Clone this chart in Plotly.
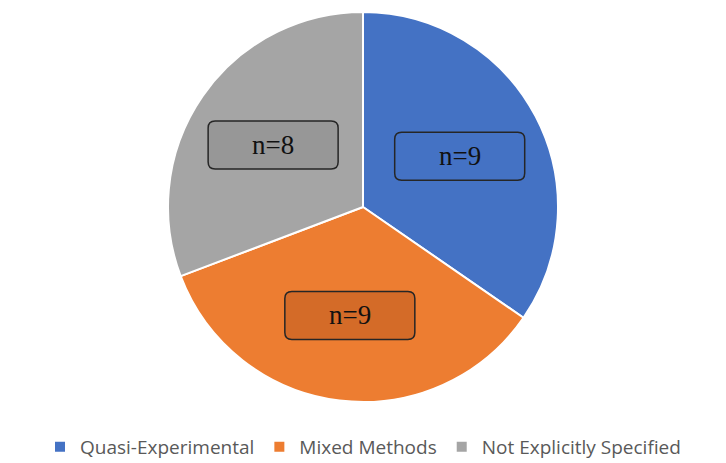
import math
import plotly.graph_objects as go

categories = ["Quasi-Experimental", "Mixed Methods", "Not Explicitly Specified"]
counts = [9, 9, 8]
colors = ["#4472C4", "#ED7D31", "#A5A5A5"]
box_colors = ["#4472C4", "#D46B28", "#979797"]

W, H = 726, 463
cx, cy, r = 363, 207, 195
bw, bh, rad = 130, 48, 7

fig = go.Figure(go.Pie(
    labels=categories, values=counts, sort=False, direction="clockwise", rotation=0,
    marker=dict(colors=colors, line=dict(color="white", width=2)),
    textinfo="none", hoverinfo="label+value",
    domain=dict(x=[(cx - r) / W, (cx + r) / W], y=[(H - cy - r) / H, (H - cy + r) / H]),
))


def rounded_box(px, py):
    x0, x1 = px - bw / 2, px + bw / 2
    y0, y1 = py - bh / 2, py + bh / 2

    def P(x, y):
        return f"{x / W:.5f},{1 - y / H:.5f}"
    return (f"M {P(x0 + rad, y0)} L {P(x1 - rad, y0)} Q {P(x1, y0)} {P(x1, y0 + rad)} "
            f"L {P(x1, y1 - rad)} Q {P(x1, y1)} {P(x1 - rad, y1)} "
            f"L {P(x0 + rad, y1)} Q {P(x0, y1)} {P(x0, y1 - rad)} "
            f"L {P(x0, y0 + rad)} Q {P(x0, y0)} {P(x0 + rad, y0)} Z")


total = sum(counts)
start = 0.0
annotations, shapes = [], []
for cat, v, bc in zip(categories, counts, box_colors):
    mid = start + v / total * 360 / 2
    start += v / total * 360
    d = 0.56 * r
    px = cx + d * math.sin(math.radians(mid))
    py = cy - d * math.cos(math.radians(mid))
    shapes.append(dict(type="path", xref="paper", yref="paper", path=rounded_box(px, py),
                       fillcolor=bc, line=dict(color="#262626", width=1.5), layer="above"))
    annotations.append(dict(
        x=px / W, y=1 - py / H, xref="paper", yref="paper", text=f"n={v}",
        showarrow=False, font=dict(family="Liberation Serif", size=27, color="#111111"),
        xanchor="center", yanchor="middle",
    ))

fig.update_layout(
    width=W, height=H, margin=dict(l=0, r=0, t=0, b=0, autoexpand=False),
    paper_bgcolor="white", plot_bgcolor="white",
    annotations=annotations, shapes=shapes,
    legend=dict(orientation="h", x=0.5, xanchor="center", y=1 - 447 / H, yanchor="middle",
                font=dict(family="Open Sans", size=19, color="#595959"),
                itemwidth=30, tracegroupgap=0),
)
fig.write_html("out.html")
